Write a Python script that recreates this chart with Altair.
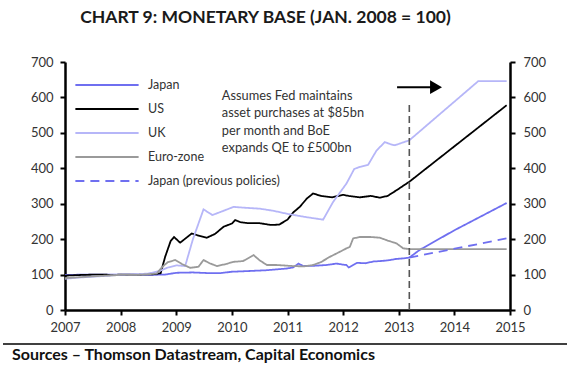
import altair as alt
import pandas as pd

# ---------------- data ----------------
series_order = ["Japan", "US", "UK", "Euro-zone", "Japan (previous policies)"]
series_colors = ["#6f6ff0", "#000000", "#b6b6f8", "#9a9a9a", "#6f6ff0"]
series_dashes = [[1, 0], [1, 0], [1, 0], [1, 0], [9, 6]]

japan_x = [2007.0, 2007.5, 2008.0, 2008.5, 2008.8, 2009.0, 2009.3, 2009.6, 2009.79, 2010.0,
           2010.3, 2010.6, 2010.98, 2011.1, 2011.2, 2011.28, 2011.5, 2011.7, 2011.88, 2012.0,
           2012.06, 2012.1, 2012.18, 2012.25, 2012.4, 2012.55, 2012.66, 2012.8, 2012.95, 2013.1,
           2013.19, 2013.38, 2014.0, 2014.94]
japan_y = [99, 100, 100, 99, 100, 105, 106, 104, 104, 108,
           110, 112, 117, 120, 131, 124, 125, 127, 131, 128,
           127, 120, 127, 133, 132, 137, 138, 140, 144, 146,
           148, 170, 225, 302]

us_x = [2007.0, 2007.3, 2007.6, 2007.9, 2008.0, 2008.3, 2008.6, 2008.72, 2008.8, 2008.9,
        2008.96, 2009.07, 2009.15, 2009.28, 2009.4, 2009.55, 2009.7, 2009.85, 2010.0, 2010.06,
        2010.15, 2010.3, 2010.5, 2010.7, 2010.85, 2011.0, 2011.1, 2011.22, 2011.35, 2011.46,
        2011.6, 2011.8, 2012.0, 2012.1, 2012.3, 2012.5, 2012.66, 2012.8, 2012.96, 2013.19,
        2014.94]
us_y = [97, 99, 100, 99, 100, 100, 101, 104, 150, 195,
        206, 190, 200, 216, 210, 204, 215, 235, 244, 254,
        248, 245, 245, 240, 241, 255, 275, 291, 315, 329,
        322, 318, 325, 322, 318, 322, 317, 322, 338, 362,
        578]

uk_x = [2007.0, 2007.2, 2007.5, 2007.8, 2008.0, 2008.3, 2008.5, 2008.7, 2008.85, 2009.0,
        2009.16, 2009.3, 2009.49, 2009.65, 2009.8, 2010.03, 2010.2, 2010.5, 2010.75, 2010.98,
        2011.3, 2011.64, 2011.82, 2012.06, 2012.2, 2012.3, 2012.45, 2012.6, 2012.75, 2012.85,
        2012.93, 2013.19, 2014.43, 2014.94]
uk_y = [88, 91, 94, 97, 100, 101, 103, 110, 120, 126,
        124, 200, 284, 268, 277, 291, 289, 286, 280, 272,
        263, 255, 305, 357, 398, 404, 410, 450, 474, 468,
        465, 479, 646, 646]

euro_x = [2007.0, 2007.3, 2007.6, 2007.9, 2008.0, 2008.3, 2008.5, 2008.65, 2008.75, 2008.85,
          2008.98, 2009.1, 2009.25, 2009.4, 2009.49, 2009.6, 2009.73, 2009.9, 2010.03, 2010.2,
          2010.39, 2010.5, 2010.63, 2010.8, 2011.1, 2011.3, 2011.46, 2011.6, 2011.76, 2011.95,
          2012.06, 2012.12, 2012.18, 2012.3, 2012.5, 2012.66, 2012.8, 2012.96, 2013.08, 2013.19,
          2014.94]
euro_y = [90, 93, 96, 98, 100, 99, 101, 103, 122, 135,
          141, 130, 119, 122, 141, 132, 124, 130, 136, 138,
          155, 140, 127, 127, 124, 123, 127, 135, 150, 165,
          174, 178, 202, 206, 206, 204, 196, 188, 174, 172,
          172]

japan_prev_x = [2013.19, 2014.94]
japan_prev_y = [148, 202]

year_ticks = [2007, 2008, 2009, 2010, 2011, 2012, 2013, 2014, 2015]
value_ticks = [0, 100, 200, 300, 400, 500, 600, 700]

forecast_start = [2013.19]
forecast_line_top = [590]

note_text = ["Assumes Fed maintains", "asset purchases at $85bn", "per month and BoE", "expands QE to £500bn"]
note_x = [2009.82]
note_y = [605]

arrow_x = [2012.97]
arrow_x2 = [2013.6]
arrow_y = [629]
arrow_head_x = [2013.67]

title_text = "CHART 9:  MONETARY BASE (JAN. 2008 = 100)"
source_text = ["Sources – Thomson Datastream, Capital Economics"]

# ---------------- build table ----------------
rows = []
for name, xs, ys in [("Japan", japan_x, japan_y), ("US", us_x, us_y), ("UK", uk_x, uk_y),
                     ("Euro-zone", euro_x, euro_y),
                     ("Japan (previous policies)", japan_prev_x, japan_prev_y)]:
    for xv, yv in zip(xs, ys):
        rows.append({"series": name, "year": xv, "value": yv})
df = pd.DataFrame(rows)

FONT = "Lato"
TXT = "#333333"

xscale = alt.Scale(domain=[2007, 2015], nice=False, zero=False)
yscale = alt.Scale(domain=[0, 700], nice=False)

axis_common = dict(
    title=None, grid=False, domainColor="#000000", domainWidth=2.5, tickColor="#000000",
    tickWidth=2, tickSize=5, labelFont=FONT, labelFontSize=13, labelColor=TXT,
    labelOverlap=False, labelFlush=False,
)
x_axis = alt.Axis(values=year_ticks, format="d", labelPadding=6, **axis_common)
y_axis_left = alt.Axis(values=value_ticks, orient="left", labelPadding=7, **axis_common)
y_axis_right = alt.Axis(values=value_ticks, orient="right", labelPadding=8, **axis_common)

legend = alt.Legend(
    title=None, orient="none", legendX=9, legendY=15, symbolType="stroke", symbolSize=4000,
    symbolStrokeWidth=2, labelFont=FONT, labelFontSize=12.5, labelColor=TXT, rowPadding=8,
    labelOffset=8, padding=0, clipHeight=16,
)

lines = alt.Chart(df).mark_line(strokeWidth=1.8).encode(
    x=alt.X("year:Q", scale=xscale, axis=x_axis),
    y=alt.Y("value:Q", scale=yscale, axis=y_axis_left),
    color=alt.Color("series:N", scale=alt.Scale(domain=series_order, range=series_colors),
                    legend=legend),
    strokeDash=alt.StrokeDash("series:N", scale=alt.Scale(domain=series_order, range=series_dashes),
                              legend=legend),
)

note_df = pd.DataFrame({"x": note_x, "y": note_y, "t": [note_text]})
note = alt.Chart(note_df).mark_text(
    align="left", baseline="middle", font=FONT, fontSize=12.8, color=TXT, lineHeight=17.5
).encode(x=alt.X("x:Q", scale=xscale, axis=x_axis),
         y=alt.Y("y:Q", scale=yscale, axis=y_axis_left), text="t")

arrow_df = pd.DataFrame({"x": arrow_x, "x2": arrow_x2, "y": arrow_y, "hx": arrow_head_x})
arrow_line = alt.Chart(arrow_df).mark_rule(color="#000000", strokeWidth=2).encode(
    x=alt.X("x:Q", scale=xscale, axis=x_axis), x2="x2:Q",
    y=alt.Y("y:Q", scale=yscale, axis=y_axis_left))
arrow_head = alt.Chart(arrow_df).mark_point(
    shape="triangle-right", size=190, filled=True, color="#000000", opacity=1
).encode(x=alt.X("hx:Q", scale=xscale, axis=x_axis),
         y=alt.Y("y:Q", scale=yscale, axis=y_axis_left))

vdf = pd.DataFrame({"x": forecast_start, "lo": [0], "hi": forecast_line_top})
vrule = alt.Chart(vdf).mark_rule(color="#555555", strokeDash=[7, 4], strokeWidth=1.6).encode(
    x=alt.X("x:Q", scale=xscale, axis=x_axis),
    y=alt.Y("lo:Q", scale=yscale, axis=y_axis_right),
    y2="hi:Q",
)

src_df = pd.DataFrame({"t": source_text})
src_text = alt.Chart(src_df).mark_text(
    align="left", baseline="middle", font=FONT, fontSize=16, fontWeight="bold", color="#111111"
).encode(x=alt.value(-53), y=alt.value(293), text="t")
src_rule = alt.Chart(src_df).mark_rule(color="#000000", strokeWidth=1.5).encode(
    x=alt.value(-62), x2=alt.value(502), y=alt.value(282))

main = alt.layer(lines, note, arrow_line, arrow_head, src_rule, src_text)

chart = alt.layer(main, vrule).resolve_scale(y="independent").properties(
    width=445, height=248,
    title=alt.Title(title_text, font=FONT, fontSize=17.5, fontWeight="bold", color="#1a1a1a",
                    anchor="middle", dx=-22, offset=30),
    autosize=alt.AutoSizeParams(type="none"),
    padding={"left": 65, "top": 62, "right": 62, "bottom": 66},
).configure_view(stroke=None)

chart.save("out.html", embed_options={"renderer": "svg", "actions": False})
